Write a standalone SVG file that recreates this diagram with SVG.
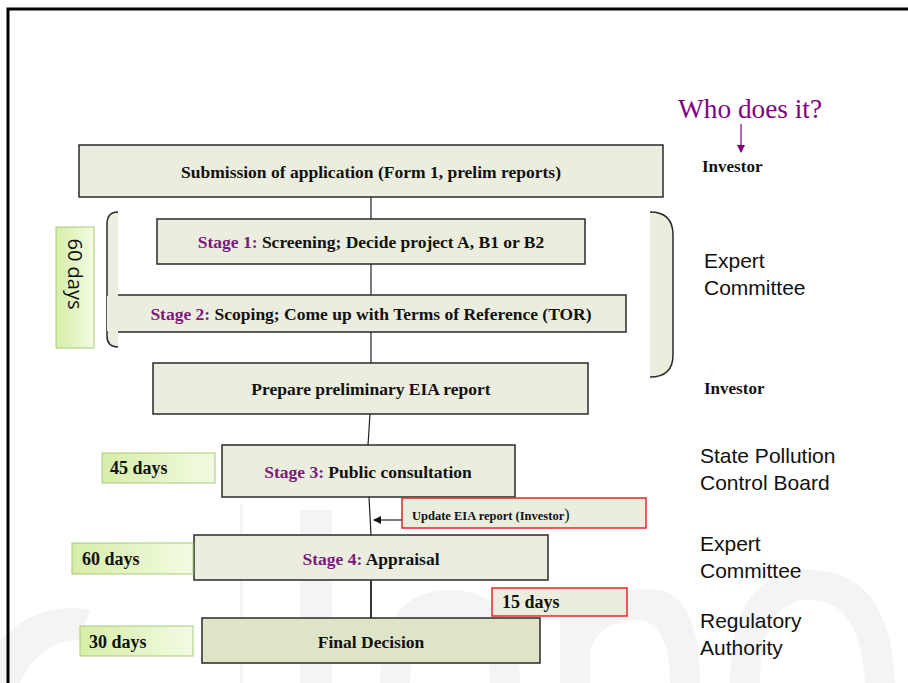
<svg xmlns="http://www.w3.org/2000/svg" width="908" height="683" viewBox="0 0 908 683">
<defs>
<style>
.box{fill:#ebeedf;stroke:#2a2a2a;stroke-width:1.5}
.t{font-family:"Liberation Serif","Times New Roman",serif;font-weight:bold;font-size:17.5px;fill:#111;text-anchor:middle}
.p{fill:#7a1a7a}
.who{font-family:"Liberation Sans","Open Sans",sans-serif;font-size:21px;fill:#111}
.inv{font-family:"Liberation Serif",serif;font-weight:bold;font-size:17px;fill:#111}
.days{fill:url(#g);stroke:#a8c878;stroke-width:1}
.dt{font-family:"Liberation Serif",serif;font-weight:bold;font-size:18px;fill:#111}
.red{fill:#ebeedf;stroke:#e8262b;stroke-width:1.5}
.wm{fill:#f4f4f4}
</style>
<linearGradient id="g" x1="0" y1="0" x2="1" y2="0">
<stop offset="0" stop-color="#d6eea8"/>
<stop offset="1" stop-color="#f2fbe2"/>
</linearGradient>
<marker id="ah" markerWidth="8" markerHeight="8" refX="7" refY="4" orient="auto" markerUnits="userSpaceOnUse">
<path d="M0,0 L8,4 L0,8 Z" fill="#111"/>
</marker>
<marker id="ap" markerWidth="8" markerHeight="8" refX="7" refY="4" orient="auto" markerUnits="userSpaceOnUse">
<path d="M0,0 L8,4 L0,8 Z" fill="#800080"/>
</marker>
</defs>
<rect width="908" height="683" fill="#fff"/>
<g id="watermark">
<rect class="wm" x="240" y="505" width="3" height="178"/>
<rect class="wm" x="300" y="510" width="32" height="173"/>
<path class="wm" d="M0,640 Q40,600 90,610 L80,640 Q40,640 20,683 L0,683 Z"/>
<path class="wm" d="M380,683 Q380,590 450,590 Q520,590 520,683 L490,683 Q490,620 450,620 Q410,620 410,683 Z"/>
<path class="wm" d="M560,683 L560,590 L590,590 L590,610 Q620,585 660,590 Q700,600 700,683 L670,683 Q670,625 640,620 Q600,620 590,650 L590,683 Z"/>
<path class="wm" d="M730,683 Q730,570 810,570 Q890,570 895,683 L865,683 Q860,600 810,600 Q760,600 760,683 Z"/>
</g>
<path d="M8,683 L8,9 L908,9" fill="none" stroke="#000" stroke-width="3"/>
<g id="bracket-left">
<path d="M118,212 Q107,212 107,224 L107,336 Q107,347 118,347 Z" fill="#ebeedf"/>
<path d="M118,212 Q107,212 107,224 L107,336 Q107,347 118,347" fill="none" stroke="#2a2a2a" stroke-width="1.5"/>
</g>
<g id="bracket-right">
<path d="M650,212 Q673,212 673,235 L673,355 Q673,377 650,377 Z" fill="#ebeedf"/>
<path d="M650,212 Q673,212 673,235 L673,355 Q673,377 650,377" fill="none" stroke="#2a2a2a" stroke-width="1.5"/>
</g>
<g id="connectors" stroke="#222" stroke-width="1.2" fill="none">
<line x1="371" y1="197" x2="371" y2="219"/>
<line x1="371" y1="264" x2="371" y2="295"/>
<line x1="371" y1="332" x2="371" y2="363"/>
<line x1="370" y1="414" x2="368" y2="445"/>
<line x1="369" y1="497" x2="371" y2="535"/>
<line x1="371" y1="580" x2="371" y2="618" stroke-width="1.8"/>
<line x1="402" y1="520" x2="374" y2="520" marker-end="url(#ah)"/>
<line x1="741" y1="124" x2="741" y2="152" stroke="#800080" marker-end="url(#ap)"/>
</g>
<g id="submission"><rect class="box" x="79" y="145" width="584" height="52"/><text class="t" x="371" y="178">Submission of application (Form 1, prelim reports)</text></g>
<g id="stage1"><rect class="box" x="157" y="219" width="428" height="45"/><text class="t" x="371" y="248"><tspan class="p">Stage 1:</tspan> Screening; Decide project A, B1 or B2</text></g>
<g id="stage2"><path class="box" d="M118,295 L626,295 L626,332 L118,332"/><rect x="107" y="296" width="12" height="35" fill="#ebeedf"/><text class="t" x="371" y="320"><tspan class="p">Stage 2:</tspan> Scoping; Come up with Terms of Reference (TOR)</text></g>
<g id="days60v"><rect class="days" x="56" y="227" width="38" height="121"/><text font-family="'Open Sans','Liberation Sans',sans-serif" font-size="20" fill="#111" text-anchor="middle" transform="translate(68,274) rotate(90)">60 days</text></g>
<g id="prelim"><rect class="box" x="153" y="363" width="435" height="51"/><text class="t" x="371" y="395">Prepare preliminary EIA report</text></g>
<g id="stage3"><rect class="box" x="222" y="445" width="293" height="52"/><text class="t" x="368" y="478"><tspan class="p">Stage 3:</tspan> Public consultation</text></g>
<g id="days45"><rect class="days" x="102" y="453" width="113" height="30"/><text class="dt" x="110" y="474">45 days</text></g>
<g id="update"><rect class="red" x="402" y="498" width="244" height="30"/><text x="412" y="520" font-family="'Liberation Serif',serif" font-weight="bold" font-size="12.5" fill="#111">Update EIA report (Investor<tspan font-weight="normal" font-size="16">)</tspan></text></g>
<g id="stage4"><rect class="box" x="194" y="535" width="354" height="45"/><text class="t" x="371" y="565"><tspan class="p">Stage 4:</tspan> Appraisal</text></g>
<g id="days60"><rect class="days" x="72" y="543" width="121" height="31"/><text class="dt" x="82" y="565">60 days</text></g>
<g id="days15"><rect class="red" x="492" y="588" width="135" height="28"/><text class="dt" x="502" y="608" font-size="13.5">15 days</text></g>
<g id="final"><rect class="box" x="202" y="618" width="338" height="45" style="fill:#dee4c8"/><text class="t" x="371" y="648">Final Decision</text></g>
<g id="days30"><rect class="days" x="80" y="626" width="113" height="30"/><text class="dt" x="89" y="648">30 days</text></g>
<g id="who">
<text x="678" y="118" font-family="'Liberation Serif',serif" font-size="27.3" fill="#800080">Who does it?</text>
<text class="inv" x="702" y="172">Investor</text>
<text class="who" x="704" y="268">Expert</text><text class="who" x="704" y="295">Committee</text>
<text class="inv" x="704" y="394">Investor</text>
<text class="who" x="700" y="463">State Pollution</text><text class="who" x="700" y="490">Control Board</text>
<text class="who" x="700" y="551">Expert</text><text class="who" x="700" y="578">Committee</text>
<text class="who" x="700" y="628">Regulatory</text><text class="who" x="700" y="655">Authority</text>
</g>
</svg>
